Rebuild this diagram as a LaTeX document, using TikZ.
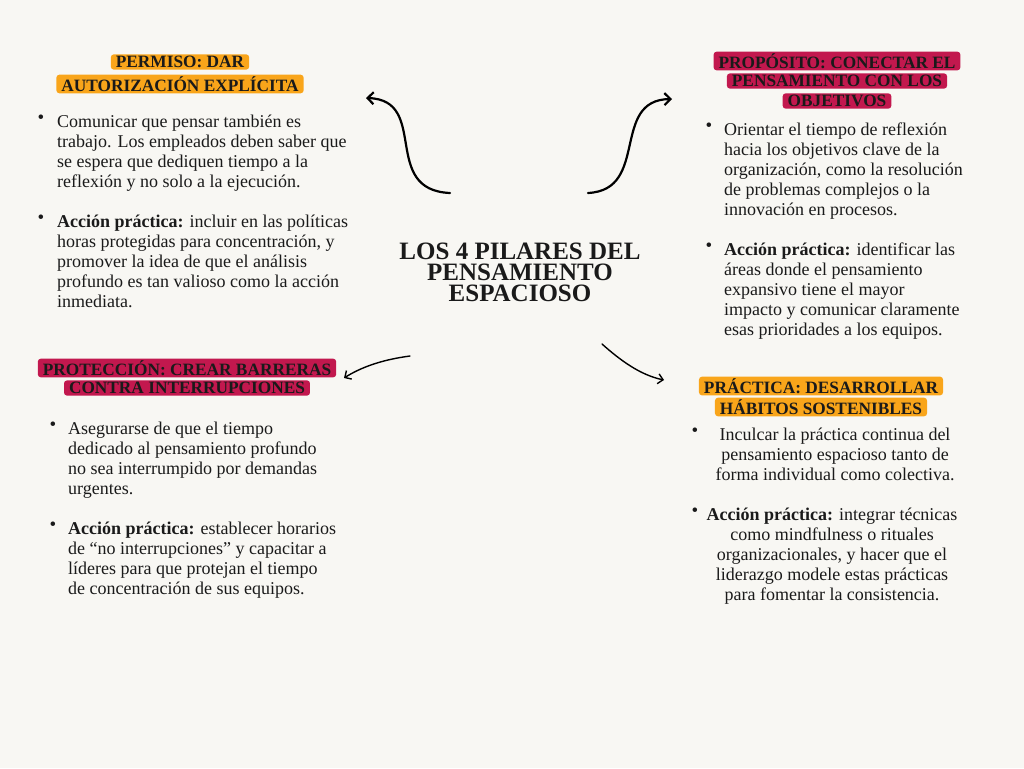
\documentclass[tikz,border=0pt]{standalone}
\usepackage{fontspec}
\setmainfont{Liberation Serif}
\usetikzlibrary{arrows.meta}
\definecolor{bg}{HTML}{F8F7F3}
\definecolor{orng}{HTML}{F9A51A}
\definecolor{crim}{HTML}{C2184E}
\definecolor{ink}{HTML}{1A1A1A}
\begin{document}
\begin{tikzpicture}[x=1pt,y=-1pt,
  lab/.style={fill=#1,rounded corners=3pt,inner xsep=5pt,inner ysep=1.8pt,font=\fontsize{17.3}{20}\selectfont\bfseries,text=ink},
  body/.style={font=\fontsize{18}{20}\selectfont,text=ink,anchor=north west,align=left,inner sep=0pt},
  bodyc/.style={font=\fontsize{18}{20}\selectfont,text=ink,anchor=north,align=center,inner sep=0pt},
  dot/.style={font=\fontsize{19}{20}\selectfont,text=ink,anchor=north,inner sep=0pt},
  arr/.style={line width=2.2pt,-{Straight Barb[length=6pt,width=12pt]},line cap=round}]
\fill[bg] (0,0) rectangle (1024,768);
\useasboundingbox (0,0) rectangle (1024,768);

\node[font=\fontsize{25}{21}\selectfont\bfseries,align=center,text=ink] (title) at (520,272) {LOS 4 PILARES DEL\\PENSAMIENTO\\ESPACIOSO};

% Permiso
\node[lab=orng] (p1) at (180,62) {PERMISO: DAR};
\node[lab=orng] (p2) at (180,84) {AUTORIZACIÓN EXPLÍCITA};
\node[dot] (pb1) at (41,115) {•};
\node[body] (pt1) at (57,115) {Comunicar que pensar también es\\trabajo. Los empleados deben saber que\\se espera que dediquen tiempo a la\\reflexión y no solo a la ejecución.};
\node[dot] (pb2) at (41,215) {•};
\node[body] (pt2) at (57,215) {\textbf{Acción práctica:} incluir en las políticas\\horas protegidas para concentración, y\\promover la idea de que el análisis\\profundo es tan valioso como la acción\\inmediata.};

% Proposito
\node[lab=crim] (q1) at (837,61) {PROPÓSITO: CONECTAR EL};
\node[lab=crim] (q2) at (837,81) {PENSAMIENTO CON LOS};
\node[lab=crim] (q3) at (837,101) {OBJETIVOS};
\node[dot] (qb1) at (709,123) {•};
\node[body] (qt1) at (724,123) {Orientar el tiempo de reflexión\\hacia los objetivos clave de la\\organización, como la resolución\\de problemas complejos o la\\innovación en procesos.};
\node[dot] (qb2) at (709,243) {•};
\node[body] (qt2) at (724,243) {\textbf{Acción práctica:} identificar las\\áreas donde el pensamiento\\expansivo tiene el mayor\\impacto y comunicar claramente\\esas prioridades a los equipos.};

% Proteccion
\node[lab=crim] (r1) at (187,368) {PROTECCIÓN: CREAR BARRERAS};
\node[lab=crim] (r2) at (187,388) {CONTRA INTERRUPCIONES};
\node[dot] (rb1) at (53,422) {•};
\node[body] (rt1) at (68,422) {Asegurarse de que el tiempo\\dedicado al pensamiento profundo\\no sea interrumpido por demandas\\urgentes.};
\node[dot] (rb2) at (53,522) {•};
\node[body] (rt2) at (68,522) {\textbf{Acción práctica:} establecer horarios\\de “no interrupciones” y capacitar a\\líderes para que protejan el tiempo\\de concentración de sus equipos.};

% Practica
\node[lab=orng] (s1) at (821,386) {PRÁCTICA: DESARROLLAR};
\node[lab=orng] (s2) at (821,407) {HÁBITOS SOSTENIBLES};
\node[dot] (sb1) at (695,428) {•};
\node[bodyc] (st1) at (835,428) {Inculcar la práctica continua del\\pensamiento espacioso tanto de\\forma individual como colectiva.};
\node[dot] (sb2) at (695,508) {•};
\node[bodyc] (st2) at (832,508) {\textbf{Acción práctica:} integrar técnicas\\como mindfulness o rituales\\organizacionales, y hacer que el\\liderazgo modele estas prácticas\\para fomentar la consistencia.};

% arrows
\coordinate (a1s) at (450,193); \coordinate (a1e) at (366,98);
\coordinate (a2s) at (588,193); \coordinate (a2e) at (672,99);
\coordinate (a3s) at (410,356); \coordinate (a3e) at (344,378);
\coordinate (a4s) at (602,344); \coordinate (a4e) at (664,380);
\draw[arr] (a1s) .. controls (380,190) and (430,100) .. (a1e);
\draw[arr] (a2s) .. controls (650,190) and (610,100) .. (a2e);
\draw[line width=1.4pt,-{Straight Barb[length=5pt,width=10pt]},line cap=round] (a3s) .. controls (380,360) and (360,368) .. (a3e);
\draw[line width=1.4pt,-{Straight Barb[length=5pt,width=10pt]},line cap=round] (a4s) .. controls (620,360) and (640,375) .. (a4e);
\end{tikzpicture}
\end{document}
